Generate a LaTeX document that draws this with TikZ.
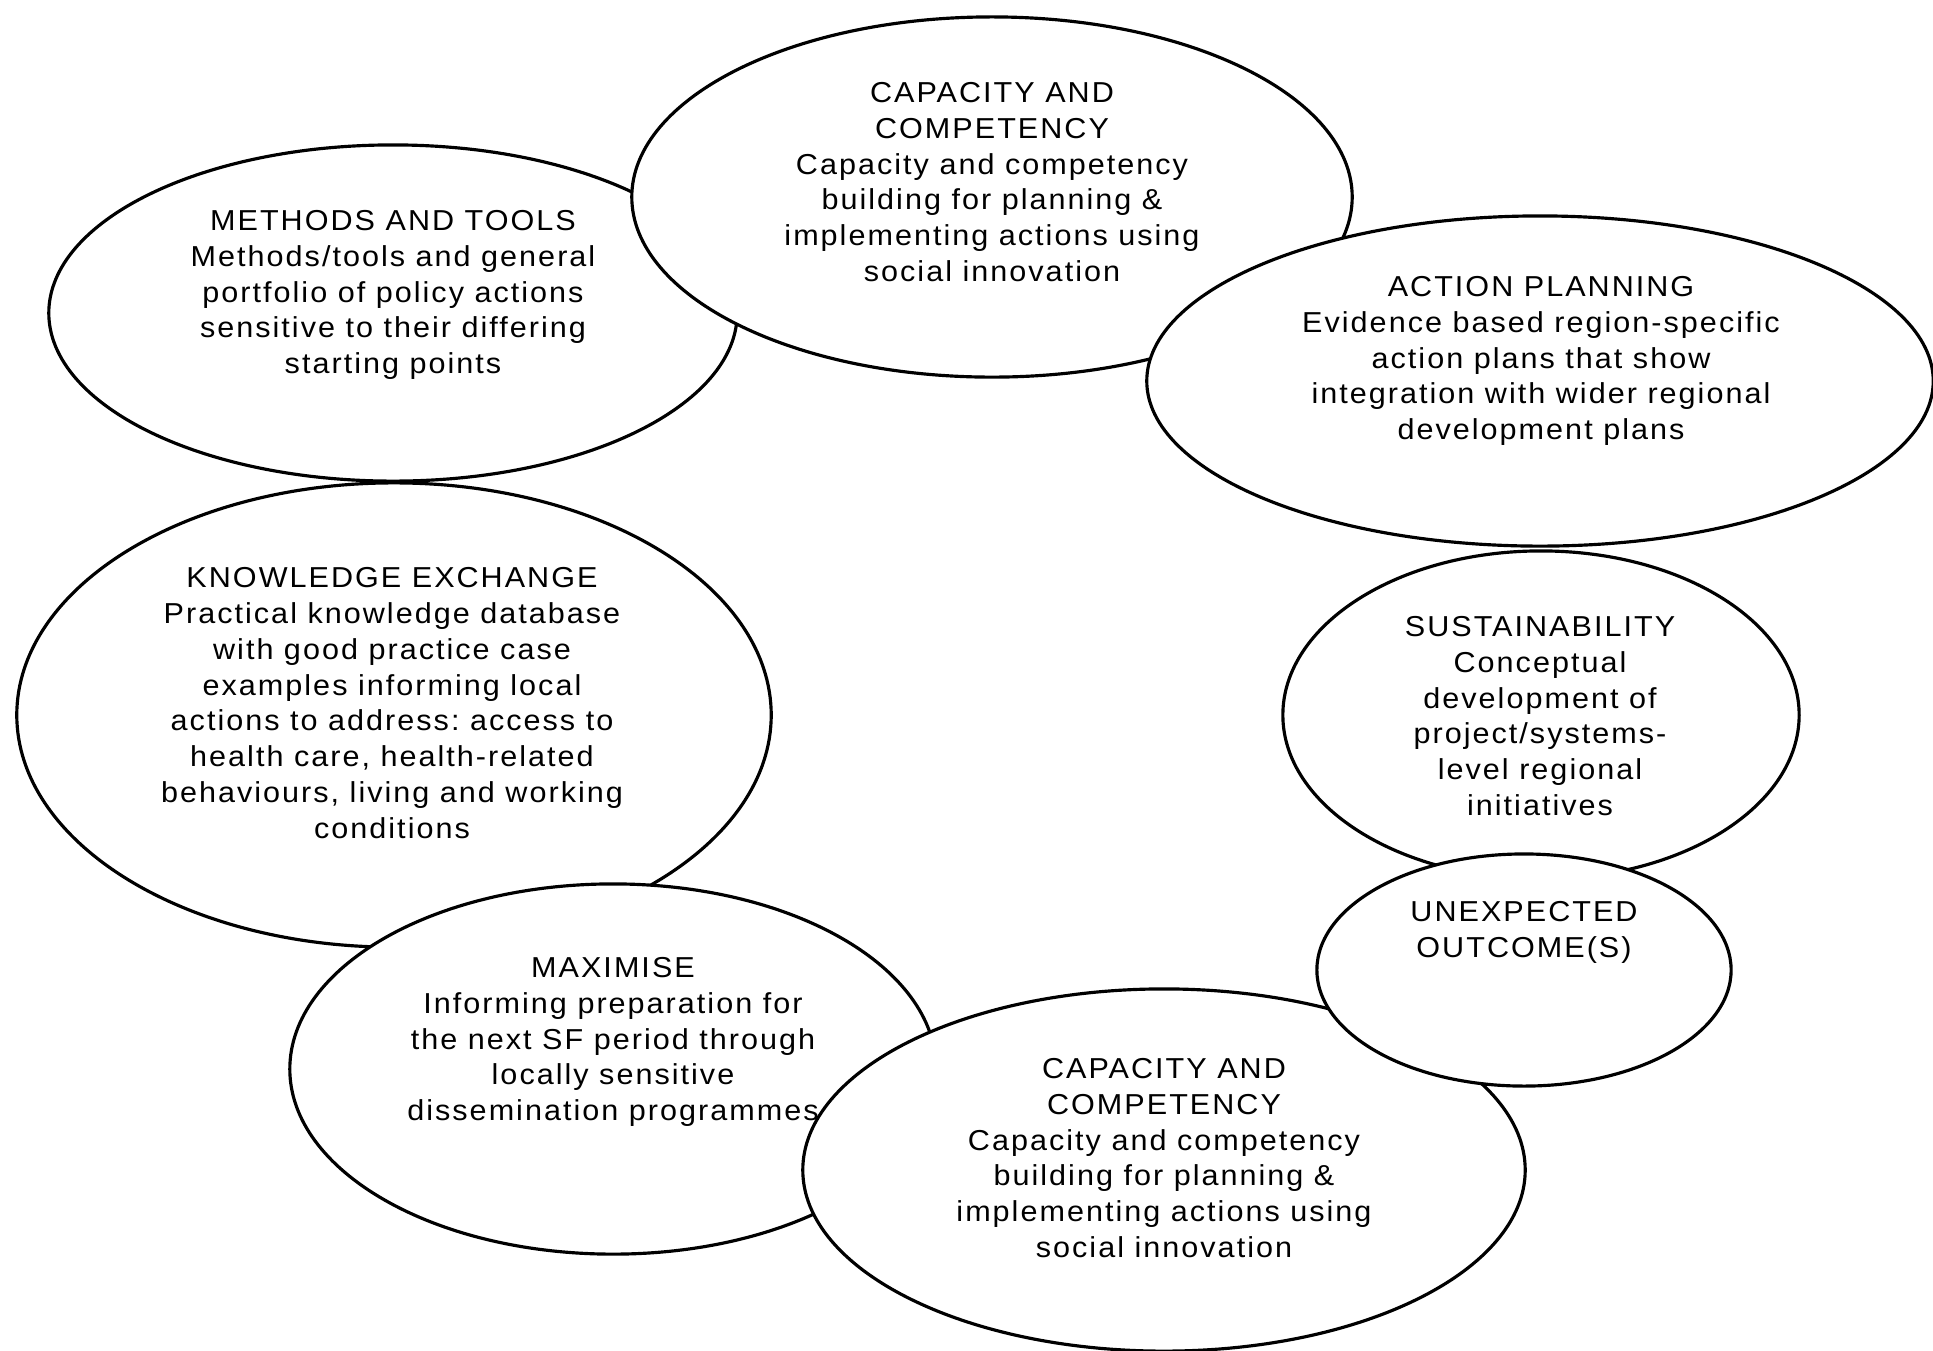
\documentclass[tikz,border=0pt]{standalone}
\usepackage{fontspec}
\setmainfont[LetterSpace=7,FakeStretch=1.06]{Liberation Sans}
\usetikzlibrary{shapes.geometric,positioning}
\frenchspacing

\begin{document}
\begin{tikzpicture}[
    x=0.01cm,
    y=-0.01cm,
    blob/.style={
        ellipse,
        draw=black,
        line width=0.9pt,
        fill=white,
        inner sep=0pt
    },
    txt/.style={
        align=center,
        inner sep=0pt,
        font=\fontsize{8.2}{10.2}\selectfont
    }
]
\useasboundingbox (0,0) rectangle (1933,1350);

% Top row
\node[blob, minimum width=6.88cm, minimum height=3.36cm] (methods) at (393,313) {};
\node[txt] (methodst) at (393,295) {METHODS AND TOOLS\\Methods/tools and general\\portfolio of policy actions\\sensitive to their differing\\starting points};

\node[blob, minimum width=7.2cm, minimum height=3.6cm] (captop) at (992,197) {};
\node[txt] (captopt) at (992,182) {CAPACITY AND\\COMPETENCY\\Capacity and competency\\building for planning \&\\implementing actions using\\social innovation};

\node[blob, minimum width=7.86cm, minimum height=3.3cm] (action) at (1540,381) {};
\node[txt] (actiont) at (1541,361) {ACTION PLANNING\\Evidence based region-specific\\action plans that show\\integration with wider regional\\development plans};

% Middle row
\node[blob, minimum width=7.54cm, minimum height=4.64cm] (knowledge) at (394,715) {};
\node[txt] (knowledget) at (392,703) {KNOWLEDGE EXCHANGE\\Practical knowledge database\\with good practice case\\examples informing local\\actions to address: access to\\health care, health-related\\behaviours, living and working\\conditions};

\node[blob, minimum width=5.16cm, minimum height=3.28cm] (sustain) at (1541,715) {};
\node[txt] (sustaint) at (1540,716) {SUSTAINABILITY\\Conceptual\\development of\\project/systems-\\level regional\\initiatives};

% Bottom row
\node[blob, minimum width=6.46cm, minimum height=3.7cm] (maximise) at (613,1069) {};

\node[blob, minimum width=7.22cm, minimum height=3.62cm] (capbot) at (1164,1170) {};
\node[txt] (capbott) at (1164,1158) {CAPACITY AND\\COMPETENCY\\Capacity and competency\\building for planning \&\\implementing actions using\\social innovation};

\node[txt] (maximiset) at (613,1042) {MAXIMISE\\Informing preparation for\\the next SF period through\\locally sensitive\\dissemination programmes};

\node[blob, minimum width=4.14cm, minimum height=2.32cm] (unexp) at (1524,970) {};
\node[txt] (unexpt) at (1524,932) {UNEXPECTED\\OUTCOME(S)};

\end{tikzpicture}
\end{document}
